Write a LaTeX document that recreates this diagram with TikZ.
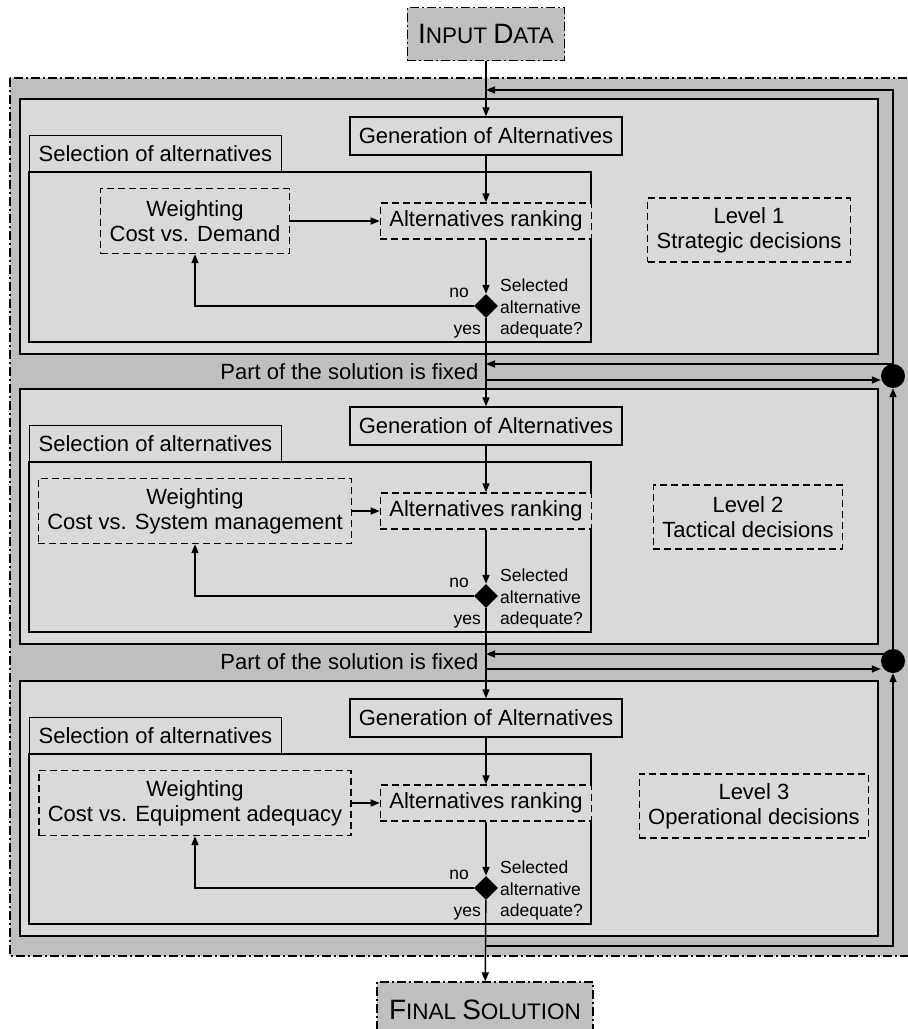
\documentclass[tikz,border=0pt]{standalone}
\usepackage{fontspec}
\setmainfont{Liberation Sans}
\usetikzlibrary{arrows.meta,positioning,shapes.geometric}
\definecolor{outergray}{HTML}{BFBFBF}
\definecolor{levelgray}{HTML}{D9D9D9}
\newcommand{\capsc}[2]{{\fontsize{28}{30}\selectfont #1}{\fontsize{22.5}{26}\selectfont #2}}

\begin{document}
\begin{tikzpicture}[x=1pt, y=-1pt,
  >={Triangle[length=9pt,width=7pt]},
  every node/.style={font=\fontsize{22}{25}\selectfont},
  conn/.style={line width=1.4pt},
  box/.style={draw, line width=1.4pt, fill=levelgray, inner xsep=9pt, minimum height=38pt},
  dbox/.style={box, line width=1.4pt, dash pattern=on 7pt off 4pt, align=center},
  term/.style={draw, line width=1.1pt, fill=outergray, dash pattern=on 9pt off 3pt on 2pt off 3pt, inner xsep=11pt},
  note/.style={font=\fontsize{17.5}{21.5}\selectfont, inner sep=0pt},
  dec/.style={diamond, fill=black, inner sep=0pt, minimum size=24pt},
  joint/.style={circle, fill=black, inner sep=0pt, minimum size=24pt}
]
\useasboundingbox (0,0) rectangle (908,1029);

% outer frame
\draw[line width=1.1pt, fill=outergray, dash pattern=on 9pt off 3pt on 2pt off 3pt] (10,78) rectangle (915,956);

\node[term, minimum height=53pt] (input) at (486,34) {\capsc{I}{NPUT} \capsc{D}{ATA}};
\node[term, minimum height=56pt, inner xsep=12pt] (final) at (485,1010) {\capsc{F}{INAL} \capsc{S}{OLUTION}};

% the three levels
\foreach \lv/\off/\wtext/\lx/\ly/\ltext in {1/0/Demand/749/230/Strategic decisions,
    2/290/System management/748/517/Tactical decisions,
    3/582/Equipment adequacy/754/806/Operational decisions} {
  \draw[conn, fill=levelgray] (20,99+\off) rectangle (878,354+\off);
  \node[box] (gen\lv) at (486,136+\off) {Generation of Alternatives};
  \draw[conn, fill=levelgray] (29,172+\off) rectangle (591,342+\off);
  \node[box, minimum height=36pt, anchor=south west] (tab\lv) at (29,172+\off) {Selection of alternatives};
  \node[dbox, minimum height=65pt] (wgt\lv) at (195,221+\off) {Weighting\\Cost vs. \wtext};
  \node[dbox, minimum height=36pt] (rank\lv) at (486,221+\off) {Alternatives ranking};
  \node[dec] (dia\lv) at (486,306+\off) {};
  \node[note, anchor=base east] (no\lv) at (469,297+\off) {no};
  \node[note, anchor=base east] (yes\lv) at (481,334+\off) {yes};
  \node[note, anchor=north west, align=left] (ask\lv) at (500,279+\off) {Selected\\alternative\\adequate?};
  \node[dbox, minimum height=64pt] (lvl\lv) at (\lx,\ly) {Level \lv\\\ltext};
  \draw[conn,->] (gen\lv) -- (rank\lv);
  \draw[conn,->] (wgt\lv) -- (rank\lv);
  \draw[conn,->] (rank\lv) -- (dia\lv);
  \draw[conn,->] (dia\lv) -| (wgt\lv);
}

% main line
\draw[conn,->] (input) -- (gen1);
\draw[conn,->] (dia1) -- (gen2);
\draw[conn,->] (dia2) -- (gen3);
\draw[conn,->] (dia3) -- (final);

% part of the solution is fixed
\node[anchor=east] (fix1) at (482,372) {Part of the solution is fixed};
\node[anchor=east] (fix2) at (482,662) {Part of the solution is fixed};
\node[joint] (jn1) at (893,376) {};
\node[joint] (jn2) at (893,661) {};
\coordinate (back1) at (486,364);
\coordinate (fwd1) at (486,380);
\coordinate (back2) at (486,654);
\coordinate (fwd2) at (486,669);
\draw[conn,->] (jn1.center |- back1) -- (back1);
\draw[conn,->] (fwd1) -- (fwd1 -| jn1.west);
\draw[conn,->] (jn2.center |- back2) -- (back2);
\draw[conn,->] (fwd2) -- (fwd2 -| jn2.west);

% feedback loop
\coordinate (fbbot) at (486,946);
\coordinate (fbtop) at (486,90);
\draw[conn,->] (fbbot) -| (jn2.south);
\draw[conn,->] (jn2) -- (jn1.south);
\draw[conn,->] (jn1) |- (fbtop);
\end{tikzpicture}
\end{document}
